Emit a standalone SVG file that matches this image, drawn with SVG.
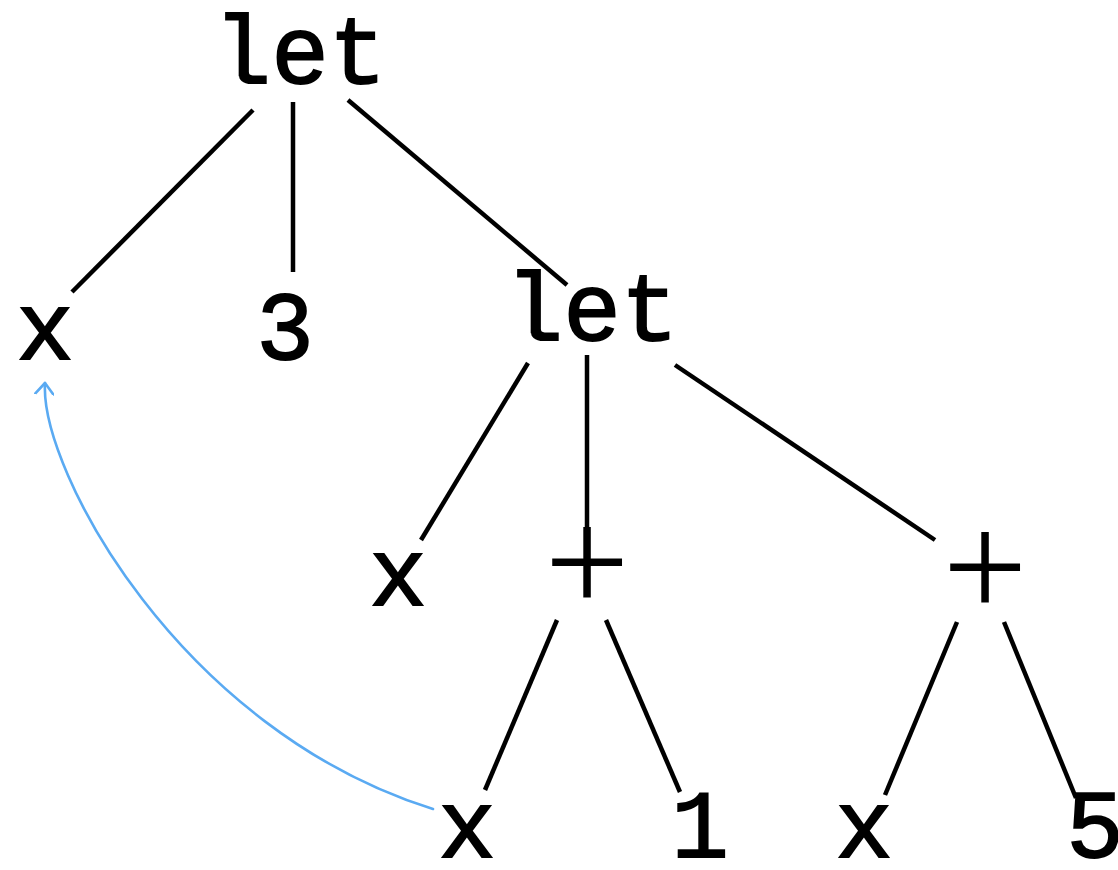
<svg xmlns="http://www.w3.org/2000/svg" width="1118" height="870" viewBox="0 0 1118 870">
<style>
text{font-family:"Liberation Mono","DejaVu Sans Mono",monospace;font-size:96px;fill:#000;stroke:#000;stroke-width:1.8;text-anchor:middle}
text.op{font-family:"Liberation Serif","DejaVu Serif",serif;font-size:150px;stroke:none}
.edge{stroke:#000;stroke-width:4.5;stroke-linecap:butt;fill:none}
.ref{stroke:#5aaaf2;stroke-width:2.6;fill:none;stroke-linecap:round;stroke-linejoin:round}
</style>
<defs>
<marker id="arr" viewBox="-12 -10 14 20" markerWidth="14" markerHeight="20" refX="0" refY="0" orient="auto" markerUnits="userSpaceOnUse">
<path d="M-11,-9 L0,0 L-11,9" class="ref"/>
</marker>
</defs>
<rect width="1118" height="870" fill="#fff"/>
<g id="edges">
<line class="edge" x1="253" y1="110" x2="72" y2="292"/>
<line class="edge" x1="293" y1="102" x2="293" y2="272"/>
<line class="edge" x1="348" y1="100" x2="567" y2="285"/>
<line class="edge" x1="528" y1="363" x2="421" y2="540"/>
<line class="edge" x1="587" y1="355" x2="587" y2="528"/>
<line class="edge" x1="675" y1="365" x2="935" y2="540"/>
<line class="edge" x1="557" y1="620" x2="485" y2="790"/>
<line class="edge" x1="606" y1="620" x2="680" y2="792"/>
<line class="edge" x1="957" y1="622" x2="885" y2="795"/>
<line class="edge" x1="1004" y1="622" x2="1076" y2="798"/>
<path class="ref" d="M433,809 C180,730 40,470 45,383" marker-end="url(#arr)"/>
</g>
<g id="n-let1"><text x="300" y="83">let</text></g>
<g id="n-x1"><text x="45" y="359">x</text></g>
<g id="n-3"><text x="285" y="359">3</text></g>
<g id="n-let2"><text x="592" y="340">let</text></g>
<g id="n-x2"><text x="398" y="605">x</text></g>
<g id="n-plus1"><text class="op" x="587" y="612">+</text></g>
<g id="n-plus2"><text class="op" x="985" y="617">+</text></g>
<g id="n-x3"><text x="467" y="857">x</text></g>
<g id="n-1"><text x="700" y="857">1</text></g>
<g id="n-x4"><text x="864" y="857">x</text></g>
<g id="n-5"><text x="1095" y="857">5</text></g>
</svg>
